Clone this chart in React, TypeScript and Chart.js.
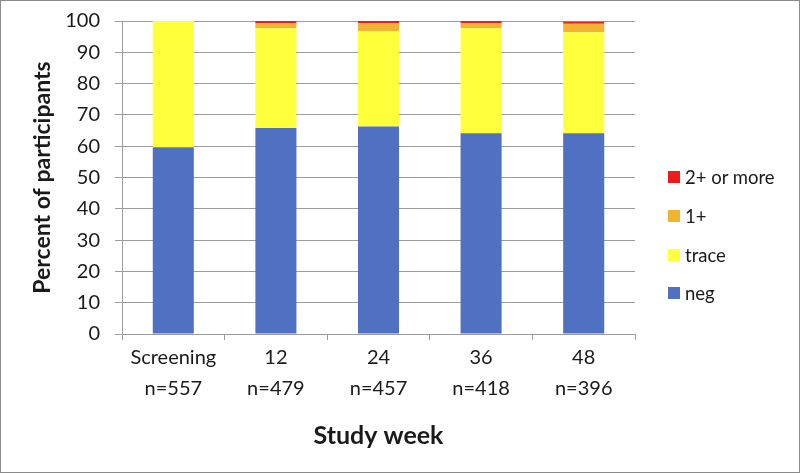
import React, { useEffect, useRef } from "react";
import { Chart, registerables } from "chart.js";

Chart.register(...registerables);

const categories: string[][] = [
  ["Screening", "n=557"],
  ["12", "n=479"],
  ["24", "n=457"],
  ["36", "n=418"],
  ["48", "n=396"],
];
const seriesNames = ["neg", "trace", "1+", "2+ or more"];
const negValues = [59.7, 65.8, 66.3, 64.1, 64.1];
const traceValues = [40.3, 31.9, 30.5, 33.6, 32.3];
const onePlusValues = [0, 1.6, 2.5, 1.6, 2.7];
const twoPlusValues = [0, 0.7, 0.7, 0.7, 0.7];
const yTicks = [0, 10, 20, 30, 40, 50, 60, 70, 80, 90, 100];

const colors = ["#5070C2", "#FFFF3C", "#F0B432", "#EC1C1C"];
const FONT = "Lato, 'Noto Sans', sans-serif";
const TEXT = "#1a1a1a";
const GRID = "#9c9c9c";

export default function App() {
  const canvasRef = useRef<HTMLCanvasElement | null>(null);

  useEffect(() => {
    const canvas = canvasRef.current;
    if (!canvas) return;
    const values = [negValues, traceValues, onePlusValues, twoPlusValues];
    const chart = new Chart(canvas, {
      type: "bar",
      data: {
        labels: categories,
        datasets: seriesNames.map((name, i) => ({
          label: name,
          data: values[i],
          backgroundColor: colors[i],
          borderWidth: 0,
          categoryPercentage: 1,
          barPercentage: 0.4,
        })),
      },
      options: {
        responsive: false,
        animation: false,
        devicePixelRatio: 1,
        layout: { padding: { top: 21, right: 165, bottom: 0, left: 0 } },
        plugins: {
          legend: { display: false },
          tooltip: { enabled: false },
        },
        scales: {
          x: {
            stacked: true,
            grid: {
              drawOnChartArea: false,
              drawTicks: true,
              tickLength: 6,
              color: GRID,
            },
            border: { display: true, color: GRID },
            ticks: {
              color: TEXT,
              padding: 2,
              maxRotation: 0,
              font: { family: FONT, size: 20, lineHeight: 1.55 },
            },
            title: {
              display: true,
              text: "Study week",
              color: TEXT,
              font: { family: FONT, size: 25, weight: "bold", lineHeight: 1.2 },
              padding: { top: 0, bottom: 22 },
            },
            afterFit: (scale: any) => {
              scale.height = 139;
            },
          },
          y: {
            stacked: true,
            min: 0,
            max: 100,
            afterBuildTicks: (scale: any) => {
              scale.ticks = yTicks.map((v) => ({ value: v }));
            },
            grid: {
              color: GRID,
              drawTicks: true,
              tickLength: 7,
            },
            border: { display: true, color: GRID },
            ticks: {
              color: TEXT,
              padding: 15,
              font: { family: FONT, size: 20 },
            },
            title: {
              display: true,
              text: "Percent of participants",
              color: TEXT,
              font: { family: FONT, size: 23, weight: "bold", lineHeight: 1.2 },
              padding: { top: 29, bottom: 0 },
            },
            afterFit: (scale: any) => {
              scale.width = 122;
              scale.paddingTop = 0;
              scale.paddingBottom = 0;
            },
          },
        },
      },
    });
    return () => chart.destroy();
  }, []);

  const legendItems = seriesNames
    .map((name, i) => ({ name, color: colors[i] }))
    .reverse();
  const legendY = [177, 216, 255, 293];

  return (
    <div
      style={{
        position: "absolute",
        left: 0,
        top: 0,
        width: 800,
        height: 473,
        background: "#ffffff",
        overflow: "hidden",
      }}
    >
      <canvas ref={canvasRef} width={800} height={473} style={{ display: "block" }} />
      {legendItems.map((it, i) => (
        <div
          key={it.name}
          style={{
            position: "absolute",
            left: 668,
            top: legendY[i] - 12,
            height: 24,
            display: "flex",
            alignItems: "center",
            fontFamily: FONT,
            fontSize: 18.5,
            color: TEXT,
            whiteSpace: "nowrap",
          }}
        >
          <span
            style={{
              display: "inline-block",
              width: 12,
              height: 12,
              background: it.color,
              marginRight: 5,
            }}
          />
          <span>{it.name}</span>
        </div>
      ))}
      <div
        style={{
          position: "absolute",
          left: 0,
          top: 0,
          width: 800,
          height: 473,
          boxSizing: "border-box",
          border: "1px solid #8a8a8a",
          pointerEvents: "none",
        }}
      />
    </div>
  );
}
